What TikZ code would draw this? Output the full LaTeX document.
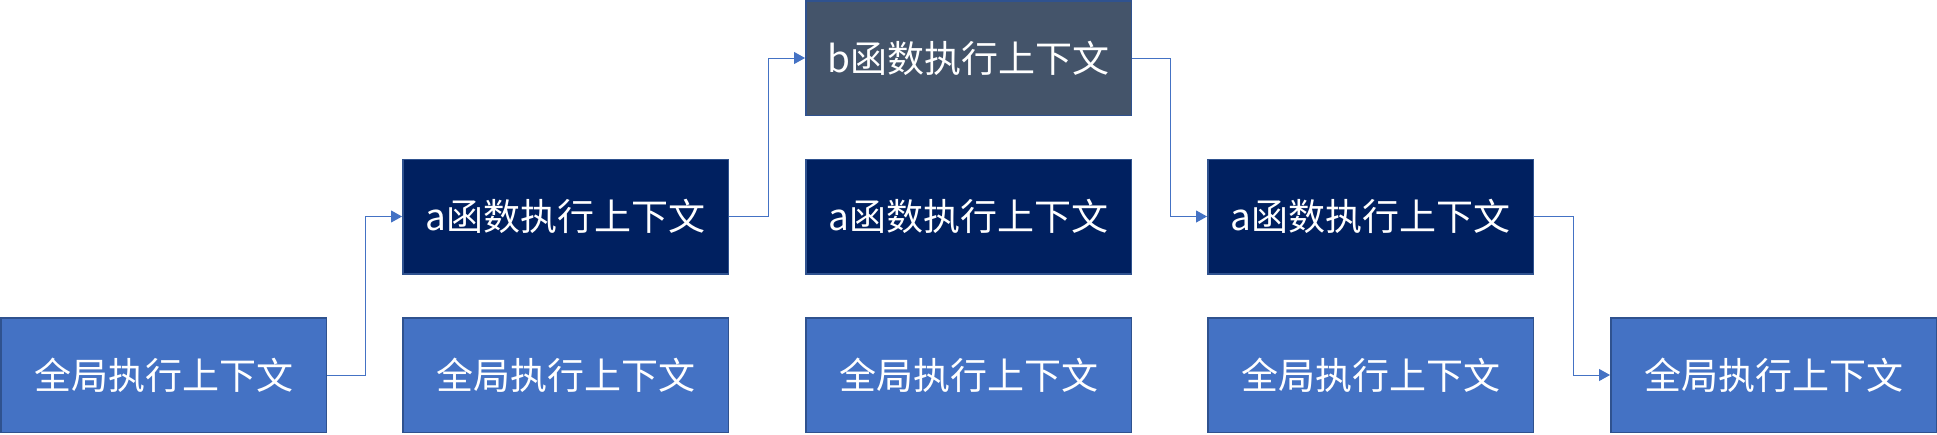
\documentclass[tikz,border=0pt]{standalone}
\usepackage{fontspec}
\setmainfont{Noto Sans CJK SC}
\usetikzlibrary{arrows.meta}
\definecolor{lightblue}{HTML}{4472C4}
\definecolor{navy}{HTML}{002060}
\definecolor{slate}{HTML}{44546A}
\definecolor{edge}{HTML}{2F528F}
\tikzset{
  ctx/.style={draw=edge, line width=1.5pt, minimum width=325.5pt, minimum height=114.5pt,
    inner sep=0pt, text=white, font=\fontsize{37pt}{40pt}\selectfont},
  glob/.style={ctx, fill=lightblue},
  afun/.style={ctx, fill=navy},
  bfun/.style={ctx, fill=slate},
  conn/.style={draw=lightblue, line width=1pt, -{Triangle[length=11pt,width=12pt]}}
}
\begin{document}
\begin{tikzpicture}[x=1pt,y=-1pt]
\useasboundingbox (0,0) rectangle (1937,434);
\fill[white] (0,0) rectangle (1937,434);
% column 0
\node[glob] (g0) at (163.5,375) {全局执行上下文};
% column 1
\node[afun] (a1) at (565.5,216.5) {a函数执行上下文};
\node[glob] (g1) at (565.5,375) {全局执行上下文};
% column 2
\node[bfun] (b2) at (968.5,58) {b函数执行上下文};
\node[afun] (a2) at (968.5,216.5) {a函数执行上下文};
\node[glob] (g2) at (968.5,375) {全局执行上下文};
% column 3
\node[afun] (a3) at (1370.5,216.5) {a函数执行上下文};
\node[glob] (g3) at (1370.5,375) {全局执行上下文};
% column 4
\node[glob] (g4) at (1773.5,375) {全局执行上下文};
% connectors
\draw[conn] (g0.east) -- ++(38,0) |- (a1.west);
\draw[conn] (a1.east) -- ++(39,0) |- (b2.west);
\draw[conn] (b2.east) -- ++(38,0) |- (a3.west);
\draw[conn] (a3.east) -- ++(39,0) |- (g4.west);
\end{tikzpicture}
\end{document}
